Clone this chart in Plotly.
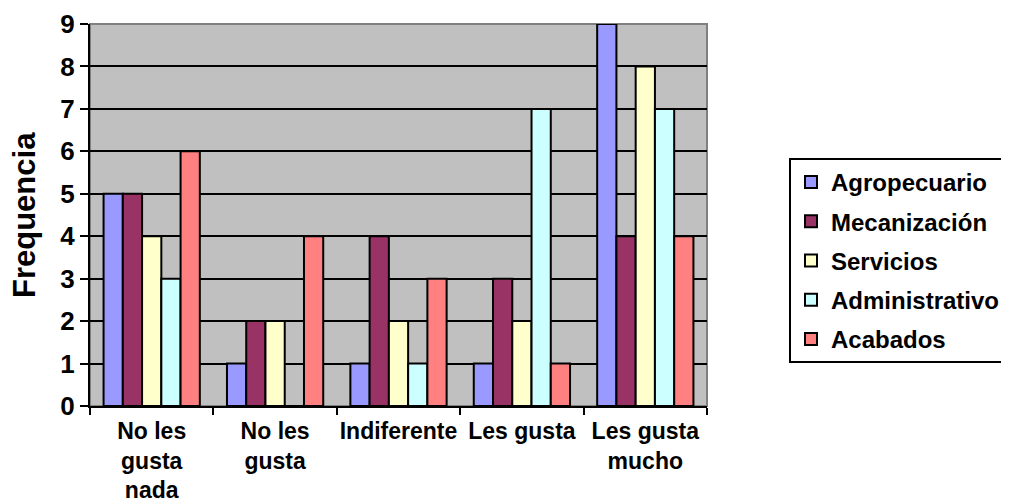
import plotly.graph_objects as go

categories = ["No les<br>gusta<br>nada", "No les<br>gusta", "Indiferente", "Les gusta", "Les gusta<br>mucho"]
series_names = ["Agropecuario", "Mecanización", "Servicios", "Administrativo", "Acabados"]
agropecuario = [5, 1, 1, 1, 9]
mecanizacion = [5, 2, 4, 3, 4]
servicios = [4, 2, 2, 2, 8]
administrativo = [3, 0, 1, 7, 7]
acabados = [6, 4, 3, 1, 4]
series_values = [agropecuario, mecanizacion, servicios, administrativo, acabados]
colors = ["#9999FF", "#993366", "#FFFFCC", "#CCFFFF", "#FF8080"]
y_ticks = [0, 1, 2, 3, 4, 5, 6, 7, 8, 9]

FONT = "Arial, Liberation Sans, sans-serif"
OFF = 8  # page body margin
W, H = 1009 - OFF, 504 - OFF

fig = go.Figure()
for name, vals, col in zip(series_names, series_values, colors):
    fig.add_trace(go.Bar(
        name=name, x=categories, y=vals,
        marker=dict(color=col, line=dict(color="black", width=2)),
        legendgroup=name,
    ))

px0, px1, py0, py1 = 90 - OFF, 707 - OFF, 24 - OFF, 406 - OFF
PW, PH = px1 - px0, py1 - py0
fig.update_layout(
    width=W, height=H,
    margin=dict(l=px0, r=W - px1, t=py0, b=H - py1, pad=0, autoexpand=False),
    paper_bgcolor="white",
    plot_bgcolor="#C0C0C0",
    barmode="group",
    bargap=0.22,
    bargroupgap=0,
    font=dict(family=FONT, size=24, color="black", weight="bold"),
    legend=dict(
        x=(789 - OFF - px0) / PW, y=(py1 - (158 - OFF)) / PH, xanchor="left", yanchor="top",
        bordercolor="black", borderwidth=2, bgcolor="white",
        font=dict(family=FONT, size=24, color="black", weight="bold"),
        tracegroupgap=5,
        itemsizing="constant",
    ),
    showlegend=True,
)
fig.update_xaxes(
    type="category",
    showline=True, linecolor="black", linewidth=2,
    ticks="outside", tickson="boundaries", ticklen=7, tickcolor="black", tickwidth=2,
    showgrid=False, tickangle=0, ticklabelstandoff=3,
    tickfont=dict(family=FONT, size=23, color="black", weight="bold"),
)
fig.update_yaxes(
    range=[0, 9], tickvals=y_ticks,
    showline=True, linecolor="black", linewidth=2,
    ticks="outside", ticklen=8, tickcolor="black", tickwidth=2,
    showgrid=True, gridcolor="black", gridwidth=2,
    zeroline=False,
    tickfont=dict(family=FONT, size=26, color="black", weight="bold"),
)
fig.add_shape(type="rect", xref="paper", yref="paper", x0=0, x1=1, y0=0, y1=1,
              line=dict(color="#808080", width=2), layer="between")
fig.add_annotation(
    text="Frequencia", xref="paper", yref="paper",
    x=(24 - OFF - px0) / PW, y=(py1 - (215 - OFF)) / PH, xanchor="center", yanchor="middle",
    textangle=-90, showarrow=False,
    font=dict(family=FONT, size=31, color="black", weight="bold"),
)

fig.write_html("out.html")
